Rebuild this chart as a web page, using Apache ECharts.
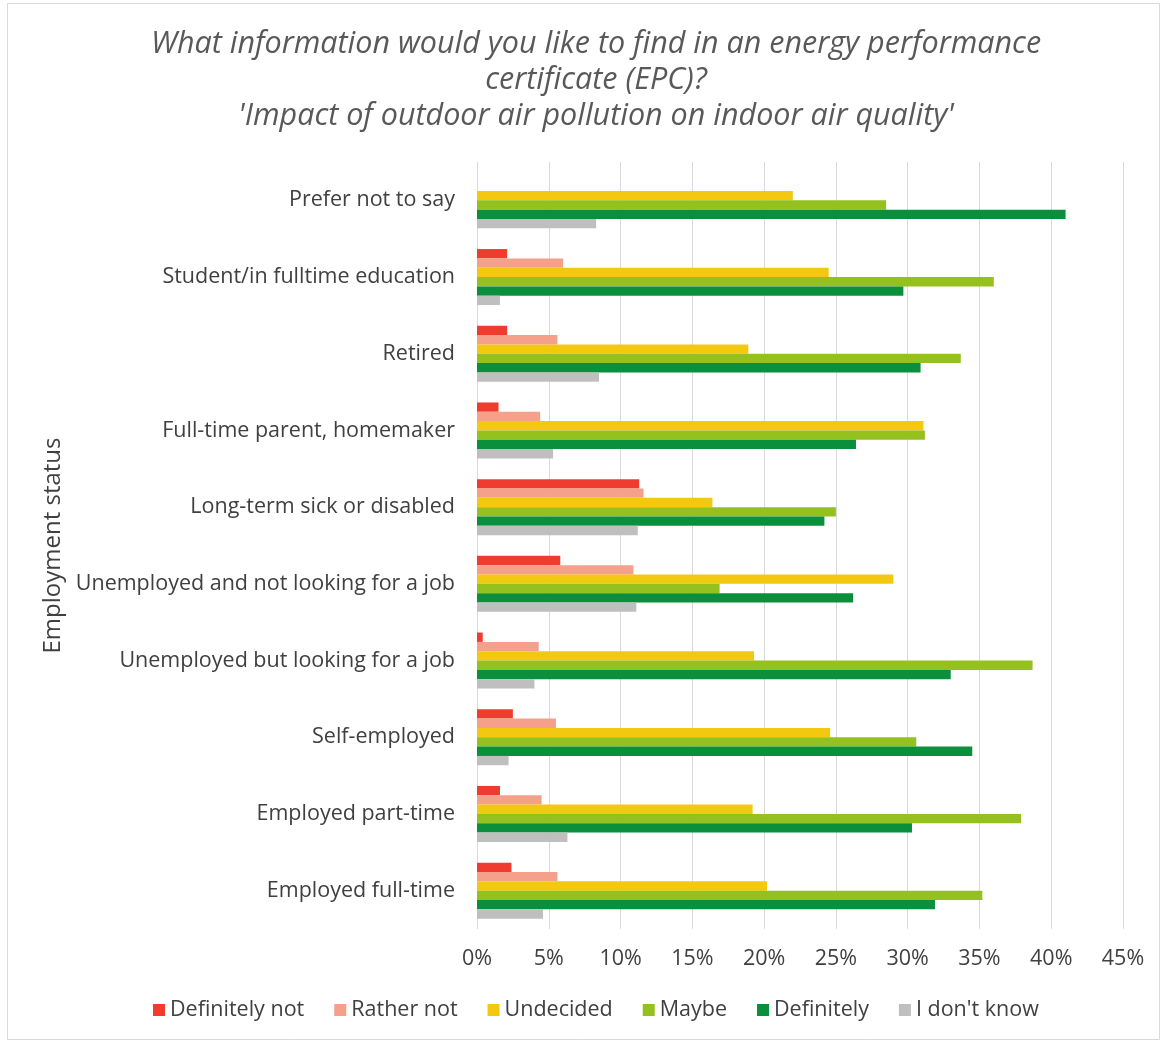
<!DOCTYPE html>
<html><head><meta charset="utf-8">
<script src="https://cdn.jsdelivr.net/npm/echarts@6/dist/echarts.min.js"></script>
<style>html,body{margin:0;padding:0;background:#fff}#c{width:1166px;height:1042px}</style>
</head><body><div id="c"></div>
<script>
const categories = ['Employed full-time','Employed part-time','Self-employed','Unemployed but looking for a job','Unemployed and not looking for a job','Long-term sick or disabled','Full-time parent, homemaker','Retired','Student/in fulltime education','Prefer not to say'];
const seriesNames = ['Definitely not','Rather not','Undecided','Maybe','Definitely',"I don't know"];
const definitelyNot = [2.4,1.6,2.5,0.4,5.8,11.3,1.5,2.1,2.1,0];
const ratherNot = [5.6,4.5,5.5,4.3,10.9,11.6,4.4,5.6,6.0,0];
const undecided = [20.2,19.2,24.6,19.3,29.0,16.4,31.1,18.9,24.5,22.0];
const maybe = [35.2,37.9,30.6,38.7,16.9,25.0,31.2,33.7,36.0,28.5];
const definitely = [31.9,30.3,34.5,33.0,26.2,24.2,26.4,30.9,29.7,41.0];
const dontKnow = [4.6,6.3,2.2,4.0,11.1,11.2,5.3,8.5,1.6,8.3];
const xTicks = {min:0,max:45,interval:5};
const colors = ['#f03c2e','#f4a08a','#f2c811','#95c11f','#0a8f3c','#bfbfbf'];
const values = [definitelyNot,ratherNot,undecided,maybe,definitely,dontKnow];

const font = 'Open Sans';
const chart = echarts.init(document.getElementById('c'));
const series = seriesNames.map((n,i)=>({
  name:n,type:'bar',data:values[i],itemStyle:{color:colors[i]},
  barCategoryGap:'27%',barGap:'0%'
}));
chart.setOption({
  animation:false,
  textStyle:{fontFamily:font},
  title:{text:"What information would you like to find in an energy performance\ncertificate (EPC)?\n'Impact of outdoor air pollution on indoor air quality'",
    left:591,textAlign:'center',top:21,
    textStyle:{fontFamily:font,fontStyle:'italic',fontWeight:'normal',fontSize:30.5,color:'#595959',lineHeight:36}},
  graphic:[{type:'rect',shape:{x:7.5,y:3.5,width:1152,height:1036},style:{fill:'none',stroke:'#d9d9d9',lineWidth:1},silent:true,z:-1}],
  legend:{data:seriesNames,bottom:16,left:148,itemWidth:12,itemHeight:12,itemGap:30,icon:'rect',
    textStyle:{fontFamily:font,fontSize:21.5,color:'#404040'}},
  grid:{left:477,right:43,top:162,bottom:113},
  xAxis:{type:'value',min:xTicks.min,max:xTicks.max,interval:xTicks.interval,
    axisLabel:{formatter:'{value}%',fontSize:21.5,color:'#404040',margin:19,fontFamily:font},
    axisLine:{show:false},axisTick:{show:false},
    splitLine:{lineStyle:{color:'#d9d9d9',width:1}}},
  yAxis:{type:'category',data:categories,
    name:'Employment status',nameLocation:'middle',nameGap:408,nameRotate:90,
    nameTextStyle:{fontSize:24,color:'#404040',fontFamily:font},
    axisLabel:{fontSize:21.5,color:'#404040',margin:22,fontFamily:font},
    axisLine:{show:false},axisTick:{show:false}},
  series:series
});
</script></body></html>
